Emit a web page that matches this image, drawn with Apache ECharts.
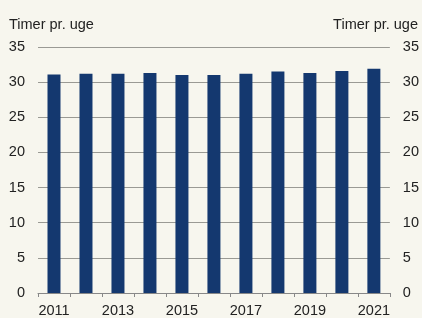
<!DOCTYPE html>
<html lang="da">
<head>
<meta charset="UTF-8">
<script src="https://cdn.jsdelivr.net/npm/echarts@6/dist/echarts.min.js"></script>
<style>
  html, body { margin: 0; padding: 0; background: #f7f6ee; }
  #main { width: 422px; height: 318px; }
</style>
</head>
<body>
<div id="main"></div>
<script>
// data
var years = ['2011', '2012', '2013', '2014', '2015', '2016', '2017', '2018', '2019', '2020', '2021'];
var hours = [31.1, 31.2, 31.2, 31.3, 31.0, 31.0, 31.2, 31.5, 31.3, 31.6, 31.9];
var unitLabel = 'Timer pr. uge';

var txt = { color: '#222', fontSize: 14.5, fontFamily: 'Liberation Sans, Arial, sans-serif' };

var yAxisBase = {
    type: 'value',
    min: 0,
    max: 35,
    interval: 5,
    axisLine: { show: false },
    axisTick: { show: false },
    axisLabel: Object.assign({ margin: 13 }, txt)
};

var option = {
    backgroundColor: '#f7f6ee',
    animation: false,
    title: [
        { text: unitLabel, left: 9, top: 17, padding: 0, textStyle: Object.assign({ fontWeight: 'normal' }, txt) },
        { text: unitLabel, right: 4, top: 17, padding: 0, textStyle: Object.assign({ fontWeight: 'normal' }, txt) }
    ],
    grid: { left: 38, right: 31, top: 47, bottom: 22.5, containLabel: false },
    xAxis: {
        type: 'category',
        data: years,
        axisLine: { lineStyle: { color: '#888', width: 1 } },
        axisTick: { show: true, interval: 0, length: 4, lineStyle: { color: '#888' } },
        axisLabel: Object.assign({ interval: 1, margin: 10 }, txt)
    },
    yAxis: [
        Object.assign({}, yAxisBase, { position: 'left', splitLine: { lineStyle: { color: '#9a9a94', width: 1 } } }),
        Object.assign({}, yAxisBase, { position: 'right', splitLine: { show: false } })
    ],
    series: [{
        type: 'bar',
        data: hours,
        barWidth: 13,
        itemStyle: { color: '#14386f' }
    }]
};

var myChart = echarts.init(document.getElementById('main'));
myChart.setOption(option);
</script>
</body>
</html>
